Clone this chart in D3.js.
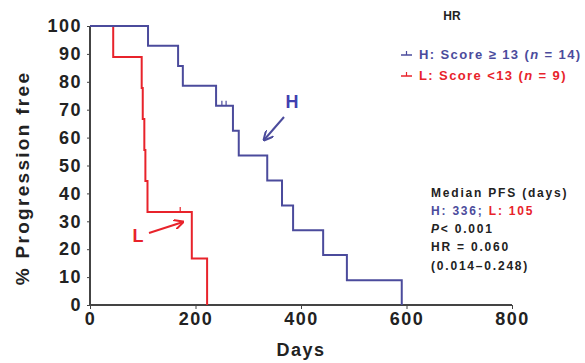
<!DOCTYPE html>
<style>
    body { margin: 0; background: #fff; }
    text { font-family: "Liberation Sans", Arial, sans-serif; }
    .tick text { font: bold 18px "Liberation Sans", Arial, sans-serif; fill: #222; letter-spacing: 1.5px; }
    .axis path, .axis line { stroke: #444; }
</style>
<svg width="585" height="363"></svg>
<script src="https://d3js.org/d3.v7.min.js"></script>
<script>
    // group H: score >= 13 (n = 14)
    var hDays = [0, 110, 167, 176, 239, 271, 282, 336, 364, 385, 442, 487, 591];
    var hSurv = [100, 92.9, 85.7, 78.6, 71.4, 62.5, 53.6, 44.6, 35.7, 26.8, 17.9, 8.9, 0];
    var hCensor = [250, 258];
    // group L: score < 13 (n = 9)
    var lDays = [0, 44, 98, 100, 103, 105, 109, 193, 222];
    var lSurv = [100, 88.9, 77.8, 66.7, 55.6, 44.4, 33.3, 16.7, 0];
    var lCensor = [171];

    var xTicks = [0, 200, 400, 600, 800];
    var yTicks = [0, 10, 20, 30, 40, 50, 60, 70, 80, 90, 100];

    var blue = '#4b4b9c', red = '#e8232b';

    var svg = d3.select('svg');
    var x = d3.scaleLinear().domain([0, 800]).range([90, 512]);
    var y = d3.scaleLinear().domain([0, 100]).range([305, 26]);

    svg.append('g').attr('class', 'axis')
        .attr('transform', 'translate(0,305)')
        .call(d3.axisBottom(x).tickValues(xTicks).tickSize(4).tickPadding(3))
        .call(function(g) { g.select('.domain').attr('stroke-width', 2).attr('d', 'M90,0H512'); });

    svg.append('g').attr('class', 'axis')
        .attr('transform', 'translate(90,0)')
        .call(d3.axisLeft(y).tickValues(yTicks).tickSize(3).tickPadding(5))
        .call(function(g) { g.select('.domain').attr('stroke-width', 2).attr('d', 'M0,26V305'); });

    svg.append('text').attr('x', 301).attr('y', 356).attr('text-anchor', 'middle')
        .style('font', 'bold 18px "Liberation Sans", Arial').style('letter-spacing', '1.5px')
        .attr('fill', '#222').text('Days');
    svg.append('text').attr('transform', 'translate(29,178) rotate(-90)').attr('text-anchor', 'middle')
        .style('font', 'bold 19px "Liberation Sans", Arial').style('letter-spacing', '2.3px')
        .attr('fill', '#222').text('% Progression free');

    function stepAt(days, surv, d) {
        var i = d3.bisectRight(days, d) - 1;
        return surv[i];
    }

    var line = d3.line().curve(d3.curveStepAfter)
        .x(function(d) { return x(d[0]); })
        .y(function(d) { return y(d[1]); });

    function drawCurve(days, surv, censor, color) {
        svg.append('path')
            .datum(d3.zip(days, surv))
            .attr('d', line)
            .attr('fill', 'none').attr('stroke', color).attr('stroke-width', 2);
        svg.selectAll(null).data(censor).enter().append('line')
            .attr('x1', function(d) { return x(d); }).attr('x2', function(d) { return x(d); })
            .attr('y1', function(d) { return y(stepAt(days, surv, d)); })
            .attr('y2', function(d) { return y(stepAt(days, surv, d)) - 5; })
            .attr('stroke', color).attr('stroke-width', 1.2);
    }
    drawCurve(lDays, lSurv, lCensor, red);
    drawCurve(hDays, hSurv, hCensor, blue);

    // arrows
    var defs = svg.append('defs');
    [['ah', blue], ['al', red]].forEach(function(m) {
        defs.append('marker').attr('id', m[0]).attr('viewBox', '0 0 10 10')
            .attr('refX', 9).attr('refY', 5).attr('markerWidth', 5).attr('markerHeight', 5)
            .attr('orient', 'auto')
            .append('path').attr('d', 'M0,0L10,5L0,10').attr('fill', 'none')
            .attr('stroke', m[1]).attr('stroke-width', 2);
    });
    svg.append('line').attr('x1', 284).attr('y1', 117).attr('x2', 264).attr('y2', 140)
        .attr('stroke', blue).attr('stroke-width', 2).attr('marker-end', 'url(#ah)');
    svg.append('text').attr('x', 292).attr('y', 108).attr('text-anchor', 'middle')
        .style('font', 'bold 18px "Liberation Sans", Arial').attr('fill', '#4040b0').text('H');
    svg.append('line').attr('x1', 149).attr('y1', 233).attr('x2', 183).attr('y2', 222)
        .attr('stroke', red).attr('stroke-width', 2).attr('marker-end', 'url(#al)');
    svg.append('text').attr('x', 138).attr('y', 242).attr('text-anchor', 'middle')
        .style('font', 'bold 18px "Liberation Sans", Arial').attr('fill', red).text('L');

    // title fragment
    svg.append('text').attr('x', 452).attr('y', 20).attr('text-anchor', 'middle')
        .style('font', 'bold 12px "Liberation Sans", Arial').attr('fill', '#222').text('HR');

    // legend
    var legend = [
        { c: blue, t: ['H: Score ≥ 13 (', 'n', ' = 14)'], yy: 59 },
        { c: red, t: ['L: Score <13 (', 'n', ' = 9)'], yy: 80 }
    ];
    legend.forEach(function(l) {
        svg.append('line').attr('x1', 401).attr('x2', 412).attr('y1', l.yy - 4).attr('y2', l.yy - 4)
            .attr('stroke', l.c).attr('stroke-width', 1.5);
        svg.append('line').attr('x1', 406.5).attr('x2', 406.5).attr('y1', l.yy - 4).attr('y2', l.yy - 8)
            .attr('stroke', l.c).attr('stroke-width', 1.2);
        var t = svg.append('text').attr('x', 419).attr('y', l.yy)
            .style('font', 'bold 13px "Liberation Sans", Arial').style('letter-spacing', '1.4px')
            .attr('fill', l.c);
        l.t.forEach(function(s, i) {
            t.append('tspan').style('font-style', i === 1 ? 'italic' : 'normal').text(s);
        });
    });

    // stats block
    var sf = 'bold 12px "Liberation Sans", Arial';
    function stat(yy) {
        return svg.append('text').attr('x', 431).attr('y', yy).style('font', sf)
            .style('letter-spacing', '1.8px').attr('fill', '#222');
    }
    stat(197).text('Median PFS (days)');
    var m = stat(215);
    m.append('tspan').attr('fill', blue).text('H: 336; ');
    m.append('tspan').attr('fill', red).text('L: 105');
    var p = stat(233);
    p.append('tspan').style('font-style', 'italic').text('P');
    p.append('tspan').text('< 0.001');
    stat(251).text('HR = 0.060');
    stat(270).text('(0.014–0.248)');
</script>
